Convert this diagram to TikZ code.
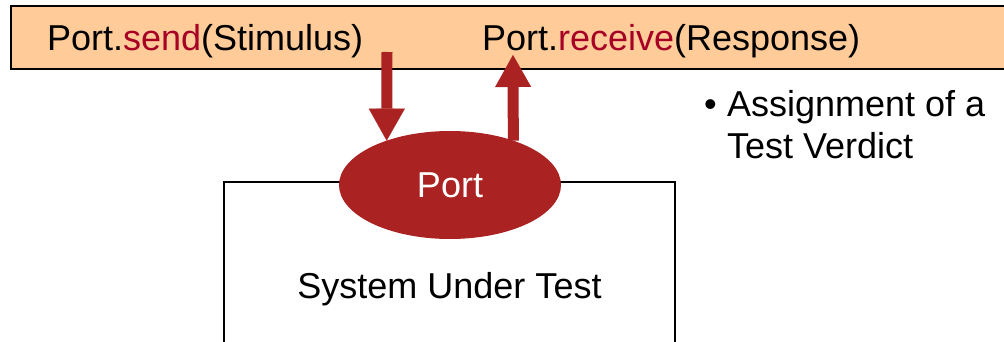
\documentclass[tikz,border=0pt]{standalone}
\usepackage{fontspec}
\setmainfont{Liberation Sans}
\usetikzlibrary{shapes,arrows.meta,positioning}
\definecolor{peach}{RGB}{255,204,153}
\definecolor{portred}{RGB}{170,34,34}
\definecolor{callred}{RGB}{166,0,36}

\begin{document}
\begin{tikzpicture}[x=0.75pt,y=-0.75pt,
  every node/.style={inner sep=0,outer sep=0,font=\fontsize{27}{31.5}\selectfont},
  flow/.style={color=portred,line width=8.25pt,-{Triangle[width=27pt,length=24pt,line width=0.1pt,fill=portred]}}]
\useasboundingbox (0,0) rectangle (1004,342);
\clip (0,0) rectangle (1004,342);
\draw[fill=peach,line width=1.5pt] (11,6) rectangle (1015,69);
\node(send) at (47,51) [anchor=base west] {Port.\textcolor{callred}{send}(Stimulus)};
\node(recv) at (482,51) [anchor=base west] {Port.\textcolor{callred}{receive}(Response)};
\node(sut) at (449.5,289) [shape=rectangle,draw,line width=1.5pt,minimum width=338.25pt,minimum height=160.5pt] {System Under Test};
\node[fill=portred,text=white](port) at (450,185) [shape=ellipse,minimum width=166.5pt,minimum height=81pt] {Port};
\node(bullet) at (704,117) [anchor=base west] {\textbullet};
\node(verdict) at (727,117) [anchor=base west] {Assignment of a};
\node(verdict2) at (727,159) [anchor=base west] {Test Verdict};
\coordinate(sendfrom) at (387,52);
\coordinate(recvto) at (513,55);
\path [flow]
(sendfrom) edge (port.145)
(port.35) edge (recvto);
\end{tikzpicture}
\end{document}
